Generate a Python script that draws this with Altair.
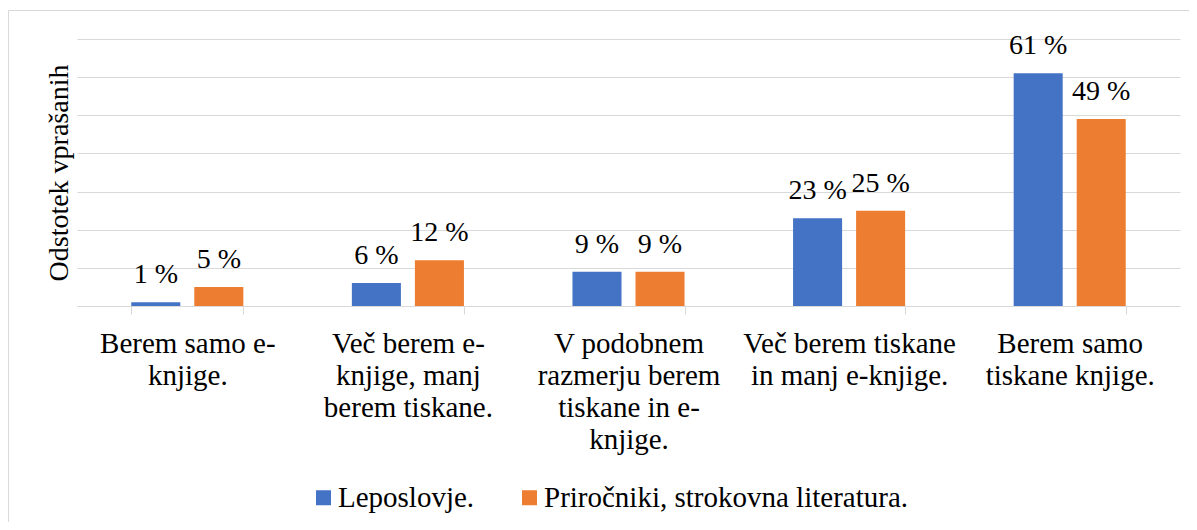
import json
import altair as alt
import pandas as pd

categories = [
    "Berem samo e-knjige.",
    "Več berem e-knjige, manj berem tiskane.",
    "V podobnem razmerju berem tiskane in e-knjige.",
    "Več berem tiskane in manj e-knjige.",
    "Berem samo tiskane knjige.",
]
category_lines = [
    ["Berem samo e-", "knjige."],
    ["Več berem e-", "knjige, manj", "berem tiskane."],
    ["V podobnem", "razmerju berem", "tiskane in e-", "knjige."],
    ["Več berem tiskane", "in manj e-knjige."],
    ["Berem samo", "tiskane knjige."],
]
series = ["Leposlovje.", "Priročniki, strokovna literatura."]
leposlovje = [1, 6, 9, 23, 61]
prirocniki = [5, 12, 9, 25, 49]
colors = ["#4472C4", "#ED7D31"]
y_ticks = [0, 10, 20, 30, 40, 50, 60, 70]
y_title = "Odstotek vprašanih"

rows = []
for i, c in enumerate(categories):
    for s, vals in zip(series, [leposlovje, prirocniki]):
        rows.append({"category": c, "series": s, "value": vals[i], "label": f"{vals[i]} %"})
df = pd.DataFrame(rows)

# label expression: map each category to its wrapped lines
expr = "''"
for c, lines in reversed(list(zip(categories, category_lines))):
    expr = f"datum.label === {json.dumps(c, ensure_ascii=False)} ? {json.dumps(lines, ensure_ascii=False)} : ({expr})"

FONT = "'Liberation Serif', 'Times New Roman', serif"
GRID = "#D9D9D9"

x_enc = alt.X(
    "category:N",
    sort=categories,
    scale=alt.Scale(paddingInner=0.492, paddingOuter=0.246),
    axis=alt.Axis(
        title=None,
        labelExpr=expr,
        labelAngle=0,
        labelFont=FONT,
        labelFontSize=29,
        labelColor="black",
        labelLineHeight=32,
        labelPadding=15,
        labelLimit=400,
        labelOverlap=False,
        ticks=True,
        tickBand="extent",
        tickSize=8,
        tickColor=GRID,
        tickWidth=1,
        domainColor=GRID,
        grid=False,
    ),
)
xoff_enc = alt.XOffset("series:N", sort=series, scale=alt.Scale(paddingInner=0.222, paddingOuter=0))
y_enc = alt.Y(
    "value:Q",
    scale=alt.Scale(domain=[0, 70], nice=False),
    axis=alt.Axis(
        values=y_ticks,
        labels=False,
        ticks=False,
        domain=False,
        grid=True,
        gridColor=GRID,
        gridWidth=1,
        title=y_title,
        titleFont=FONT,
        titleFontSize=28,
        titleFontWeight="normal",
        titleColor="black",
        titleAngle=270,
        titleAlign="center",
        titleBaseline="alphabetic",
        titleX=-10,
        titleY=133.5,
    ),
)

border = alt.Chart(pd.DataFrame({"k": [0]})).mark_rect(
    fill="transparent", stroke=GRID, strokeWidth=1
).encode(
    x=alt.value(-68.5), x2=alt.value(1400), y=alt.value(-28.5), y2=alt.value(800)
)

bars = alt.Chart(df).mark_bar().encode(
    x=x_enc,
    xOffset=xoff_enc,
    y=y_enc,
    color=alt.Color(
        "series:N",
        sort=series,
        scale=alt.Scale(domain=series, range=colors),
        legend=alt.Legend(
            orient="none",
            legendX=232,
            legendY=444,
            direction="horizontal",
            title=None,
            symbolType="square",
            symbolSize=225,
            symbolStrokeWidth=0,
            labelFont=FONT,
            labelFontSize=29,
            labelColor="black",
            labelOffset=0,
            labelLimit=600,
            columnPadding=40,
            padding=0,
        ),
    ),
)

text = alt.Chart(df).mark_text(
    dy=-19, baseline="alphabetic", font=FONT, fontSize=28, color="black"
).encode(x=x_enc, xOffset=xoff_enc, y=y_enc, text="label:N")

chart = alt.layer(border, bars, text).properties(
    width=1103,
    height=267,
    padding={"left": 69, "top": 31, "right": 9, "bottom": 216},
    autosize=alt.AutoSizeParams(type="none"),
).configure_view(stroke=None)

chart.save("out.html", embed_options={"renderer": "svg", "actions": False})
